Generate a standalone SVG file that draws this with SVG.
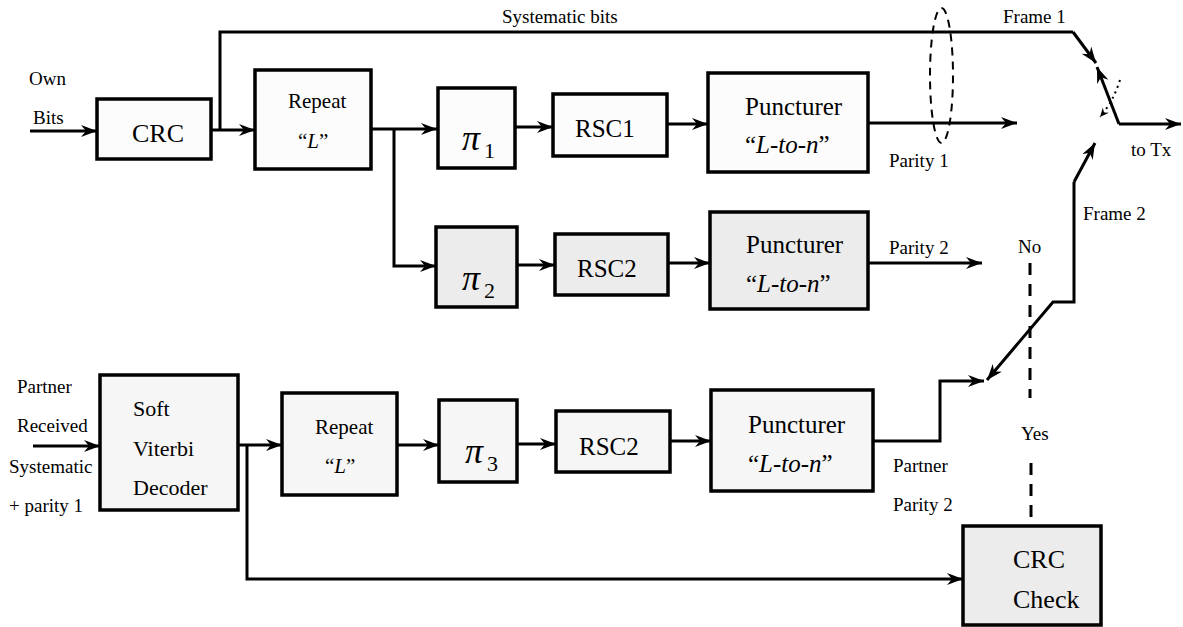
<svg xmlns="http://www.w3.org/2000/svg" width="1183" height="627" viewBox="0 0 1183 627">
<defs>
<marker id="ah" markerUnits="userSpaceOnUse" markerWidth="17" markerHeight="13" refX="16" refY="6" orient="auto">
<path d="M0,0 L16,6 L0,12 L5,6 z" fill="#000"/>
</marker>
<marker id="ahs" markerUnits="userSpaceOnUse" markerWidth="10" markerHeight="9" refX="9" refY="4" orient="auto">
<path d="M0,0 L9,4 L0,8 L3,4 z" fill="#000"/>
</marker>
<style>
.box{fill:#fcfcfc;stroke:#000;stroke-width:3.5}
.shade{fill:#ececec}
.light{fill:#f6f6f6}
text{font-family:'Liberation Serif','DejaVu Serif','Times New Roman',serif;fill:#000}
.lab{font-size:19px}
.big{font-size:25px}
.mid{font-size:21px}
.pi{font-size:36px;font-style:italic}
.sub{font-size:22px}
.it{font-style:italic}
.ln{fill:none;stroke:#000;stroke-width:3}
.arr{marker-end:url(#ah)}
.dash{fill:none;stroke:#000;stroke-width:3;stroke-dasharray:12,9}
</style>
</defs>

<g id="connectors">
<path class="ln arr" d="M30,131 H97"/>
<path class="ln arr" d="M211,130 H255"/>
<path class="ln" d="M220,130 V32 H1073"/>
<path class="ln arr" d="M1073,32 L1096,63"/>
<path class="ln arr" d="M371,129 H437"/>
<path class="ln arr" d="M394,129 V266 H436"/>
<path class="ln arr" d="M515,127 H553"/>
<path class="ln arr" d="M667,124 H708"/>
<path class="ln arr" d="M868,123 H1017"/>
<path class="ln arr" d="M517,265 H555"/>
<path class="ln arr" d="M668,263 H710"/>
<path class="ln arr" d="M868,263 H982"/>
<path class="ln arr" d="M1119,124 L1097,67"/>
<path class="ln arr" d="M1119,124 H1181"/>
<path d="M1120,80 Q1113,102 1100,117" fill="none" stroke="#000" stroke-width="2" stroke-dasharray="2,4" marker-end="url(#ahs)"/>
<path class="ln arr" d="M1074,182 L1095,143"/>
<path class="ln arr" d="M1074,182 V302 H1053 L987,380"/>
<path class="ln arr" d="M33,446 H100"/>
<path class="ln arr" d="M238,445 H282"/>
<path class="ln arr" d="M247,445 V579 H963"/>
<path class="ln arr" d="M397,445 H439"/>
<path class="ln arr" d="M517,444 H556"/>
<path class="ln arr" d="M670,441 H711"/>
<path class="ln arr" d="M873,441 H940 V381 H984"/>
<ellipse cx="941.5" cy="75.5" rx="11.5" ry="67.5" fill="none" stroke="#000" stroke-width="2" stroke-dasharray="8,6"/>
<path class="dash" d="M1030,263 V398"/>
<path class="dash" d="M1031,463 V520"/>
</g>

<g id="labels" font-family="'Liberation Serif', 'DejaVu Serif', serif">
<text class="lab" x="29" y="85">Own</text>
<text class="lab" x="33" y="124">Bits</text>
<text class="lab" x="502" y="23">Systematic bits</text>
<text class="lab" x="1003" y="23">Frame 1</text>
<text class="lab" x="889" y="167">Parity 1</text>
<text class="lab" x="1131" y="156">to Tx</text>
<text class="lab" x="1083" y="220">Frame 2</text>
<text class="lab" x="889" y="254">Parity 2</text>
<text class="lab" x="1018" y="253">No</text>
<text class="lab" x="1021" y="440">Yes</text>
<text class="lab" x="893" y="472">Partner</text>
<text class="lab" x="893" y="511">Parity 2</text>
<text class="lab" x="17" y="393">Partner</text>
<text class="lab" x="17" y="432">Received</text>
<text class="lab" x="9" y="473">Systematic</text>
<text class="lab" x="9" y="512">+ parity 1</text>
</g>

<g id="crc">
<rect class="box" x="97" y="99" width="114" height="60"/>
<text x="132" y="142" font-size="26">CRC</text>
</g>

<g id="repeat1">
<rect class="box" x="255" y="70" width="116" height="99"/>
<text class="mid" x="288" y="108">Repeat</text>
<text class="mid" x="298" y="148">“<tspan class="it">L</tspan>”</text>
</g>

<g id="pi1">
<rect class="box" x="438" y="88" width="77" height="80"/>
<text class="pi" x="462" y="150">π</text><text class="sub" x="484" y="158">1</text>
</g>

<g id="rsc1">
<rect class="box" x="553" y="94" width="114" height="62"/>
<text class="big" x="575" y="137">RSC1</text>
</g>

<g id="puncturer1">
<rect class="box" x="708" y="73" width="160" height="99"/>
<text class="big" x="745" y="115">Puncturer</text>
<text class="big" x="745" y="153">“<tspan class="it">L-to-n</tspan>”</text>
</g>

<g id="pi2">
<rect class="box shade" x="436" y="227" width="81" height="80"/>
<text class="pi" x="462" y="290">π</text><text class="sub" x="484" y="298">2</text>
</g>

<g id="rsc2">
<rect class="box shade" x="555" y="234" width="113" height="61"/>
<text class="big" x="577" y="277">RSC2</text>
</g>

<g id="puncturer2">
<rect class="box shade" x="710" y="212" width="158" height="97"/>
<text class="big" x="746" y="253">Puncturer</text>
<text class="big" x="746" y="292">“<tspan class="it">L-to-n</tspan>”</text>
</g>

<g id="viterbi">
<rect class="box light" x="100" y="375" width="138" height="135"/>
<text x="133" y="416" font-size="22">Soft</text>
<text x="133" y="456" font-size="22">Viterbi</text>
<text x="133" y="495" font-size="22">Decoder</text>
</g>

<g id="repeat2">
<rect class="box light" x="282" y="393" width="115" height="102"/>
<text class="mid" x="315" y="434">Repeat</text>
<text class="mid" x="325" y="473">“<tspan class="it">L</tspan>”</text>
</g>

<g id="pi3">
<rect class="box light" x="439" y="400" width="78" height="82"/>
<text class="pi" x="465" y="463">π</text><text class="sub" x="487" y="471">3</text>
</g>

<g id="rsc2b">
<rect class="box light" x="556" y="411" width="114" height="61"/>
<text class="big" x="579" y="455">RSC2</text>
</g>

<g id="puncturer3">
<rect class="box light" x="711" y="390" width="162" height="101"/>
<text class="big" x="748" y="433">Puncturer</text>
<text class="big" x="748" y="472">“<tspan class="it">L-to-n</tspan>”</text>
</g>

<g id="crccheck">
<rect class="box shade" x="963" y="526" width="138" height="99"/>
<text x="1013" y="568" font-size="26">CRC</text>
<text x="1013" y="608" font-size="26">Check</text>
</g>
</svg>
